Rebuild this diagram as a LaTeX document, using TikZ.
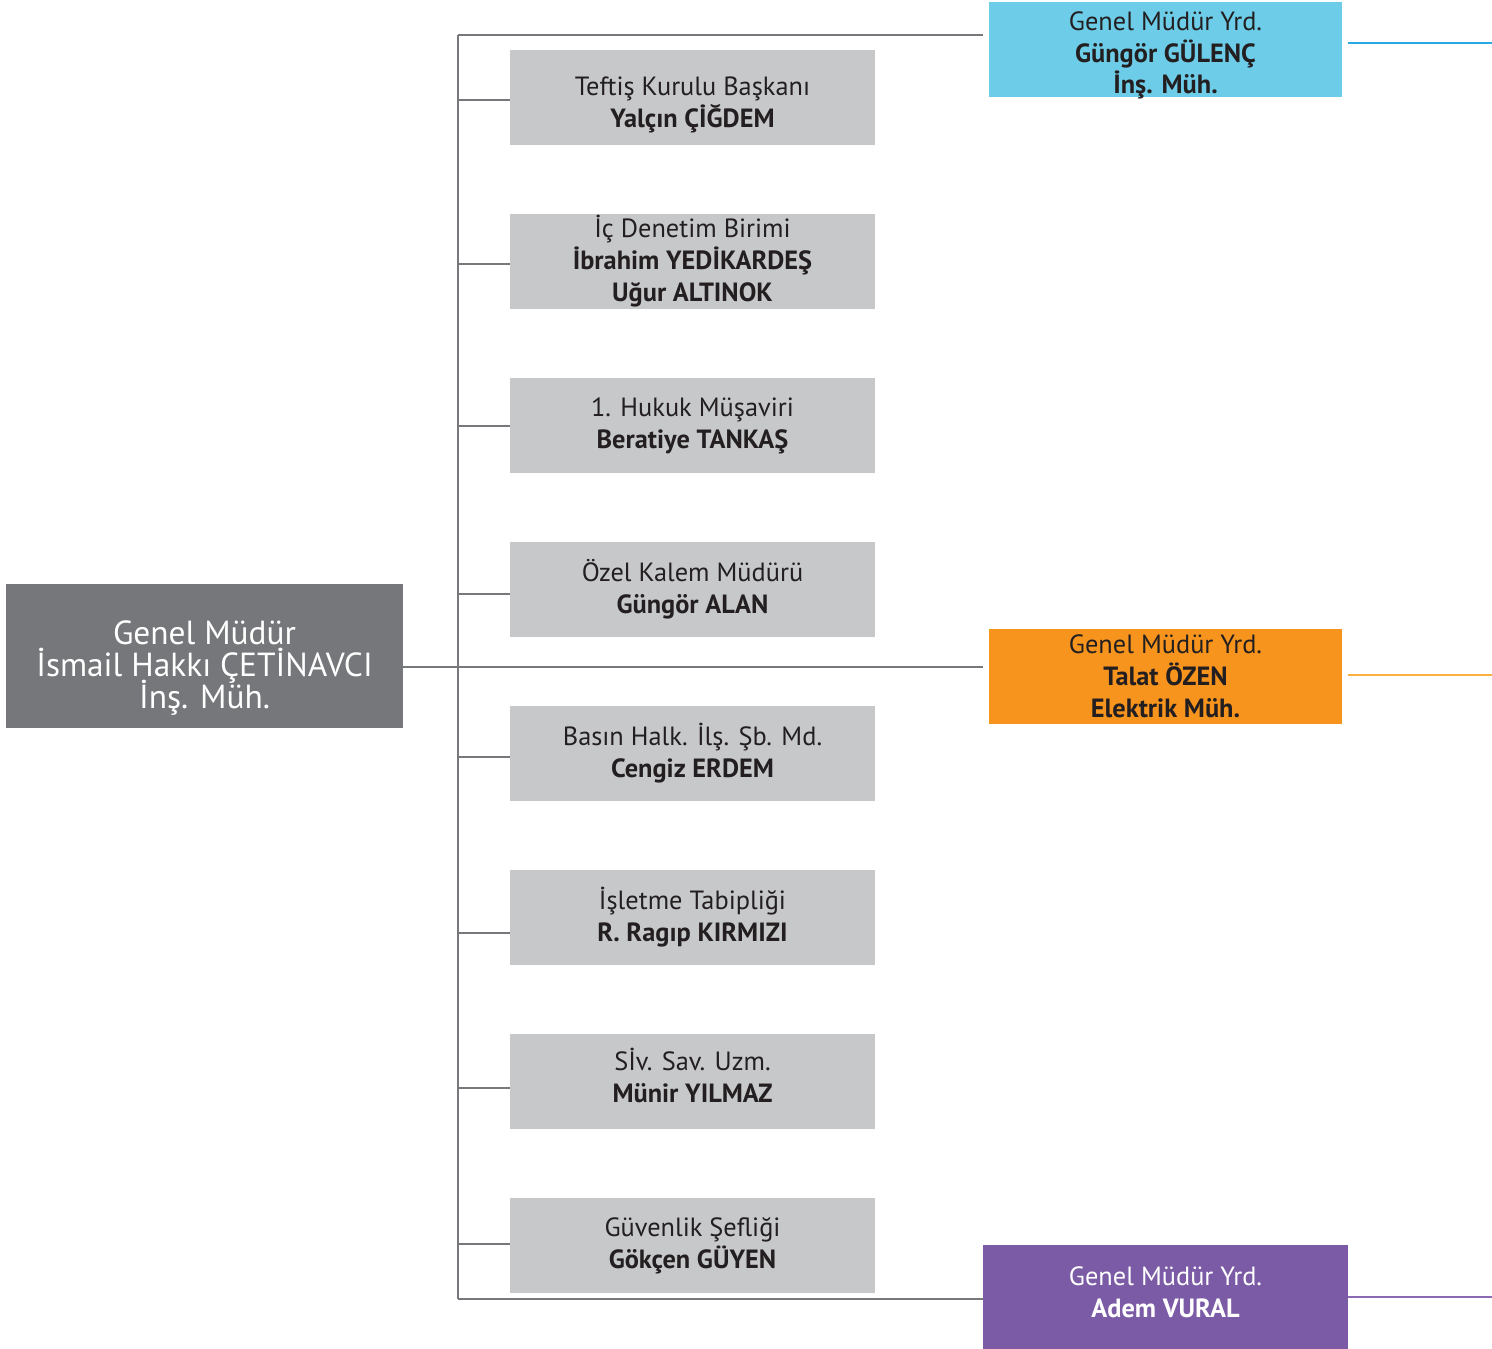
\documentclass[tikz,border=0pt]{standalone}
\usepackage{fontspec}
\setmainfont{PT Sans}
\usepackage[HTML]{xcolor}
\usepackage{tikz}
\usetikzlibrary{positioning}

\definecolor{boxgray}{HTML}{C7C8CA}
\definecolor{gmgray}{HTML}{76777B}
\definecolor{linegray}{HTML}{77787B}
\definecolor{inkdark}{HTML}{231F20}
\definecolor{gmyblue}{HTML}{6DCDE8}
\definecolor{blueline}{HTML}{27AAE1}
\definecolor{gmyorange}{HTML}{F7941E}
\definecolor{orangeline}{HTML}{FBB040}
\definecolor{gmypurple}{HTML}{7B5BA6}
\definecolor{purpleline}{HTML}{8A6BB4}

% invisible struts to nudge text inside a box
\newcommand{\topgap}[1]{\rule{0pt}{#1}}
\newcommand{\botgap}[1]{\rule[-#1]{0pt}{0pt}}

\tikzset{
  unitbox/.style={fill=boxgray, text=inkdark, align=center, inner sep=0pt,
    minimum width=7.3cm, minimum height=1.9cm,
    font=\fontsize{15}{18.2}\selectfont},
  gmybox/.style={text=inkdark, align=center, inner sep=0pt,
    minimum width=7.06cm, minimum height=1.9cm,
    font=\fontsize{15}{18.2}\selectfont},
  orgline/.style={draw=linegray, line width=1.4pt},
  sideline/.style={line width=1.6pt}
}

\begin{document}
\setlength{\lineskiplimit}{-20pt}
\begin{tikzpicture}[x=0.02cm, y=-0.02cm]
\useasboundingbox (0,0) rectangle (1492,1349);

% general manager
\node[fill=gmgray, text=white, align=center, inner sep=0pt,
  minimum width=7.94cm, minimum height=2.88cm,
  font=\fontsize{19}{18.2}\selectfont] (gm) at (204.5,656)
  {\topgap{0.96cm}Genel Müdür\\İsmail Hakkı ÇETİNAVCI\\İnş. Müh.};

% deputies
\node[gmybox, fill=gmyblue, text depth=0pt] (gmy1) at (1165.5,49.5)
  {\topgap{0.5cm}Genel Müdür Yrd.\\\textbf{Güngör GÜLENÇ}\\\textbf{İnş. Müh.}};
\node[gmybox, fill=gmyorange] (gmy2) at (1165.5,676.5)
  {Genel Müdür Yrd.\\\textbf{Talat ÖZEN}\\\textbf{Elektrik Müh.}};
\node[gmybox, fill=gmypurple, text=white, minimum width=7.3cm,
  minimum height=2.08cm] (gmy3) at (1165.5,1297)
  {Genel Müdür Yrd.\\\textbf{Adem VURAL}\botgap{0.2cm}};

% trunk
\coordinate (top) at (458,35);
\coordinate (mid) at (458,667);
\coordinate (bot) at (458,1299);
\draw[orgline] (top) -- (bot);

% staff units
\foreach \n/\y/\ly/\txt in {
  1/97.5/100/{\topgap{0.66cm}Teftiş Kurulu Başkanı\\\textbf{Yalçın ÇİĞDEM}},
  2/261.5/264/{İç Denetim Birimi\\\textbf{İbrahim YEDİKARDEŞ}\\\textbf{Uğur ALTINOK}},
  3/425.5/426/{1. Hukuk Müşaviri\\\textbf{Beratiye TANKAŞ}},
  4/589.5/594/{Özel Kalem Müdürü\\\textbf{Güngör ALAN}},
  5/753.5/757/{Basın Halk. İlş. Şb. Md.\\\textbf{Cengiz ERDEM}},
  6/917.5/933/{İşletme Tabipliği\\\textbf{R. Ragıp KIRMIZI}},
  7/1081.5/1088/{Sİv. Sav. Uzm.\\\textbf{Münir YILMAZ}\botgap{0.24cm}},
  8/1245.5/1244/{Güvenlik Şefliği\\\textbf{Gökçen GÜYEN}}}{
  \node[unitbox] (dep\n) at (692.5,\y) {\txt};
  \draw[orgline] (dep\n.west |- 0,\ly) -- (top |- 0,\ly);
}

% links to the deputies
\draw[orgline] (top) -- ([xshift=-0.12cm]top -| gmy1.west);
\draw[orgline] (gm.east |- mid) -- ([xshift=-0.12cm]mid -| gmy2.west);
\draw[orgline] (bot) -- (bot -| gmy3.west);

% right hand lines
\draw[sideline, blueline] ([xshift=0.12cm, yshift=0.13cm]gmy1.east) -- ++(144,0);
\draw[sideline, orangeline] ([xshift=0.12cm, yshift=0.03cm]gmy2.east) -- ++(144,0);
\draw[sideline, purpleline] (gmy3.east) -- ++(144,0);
\end{tikzpicture}
\end{document}
